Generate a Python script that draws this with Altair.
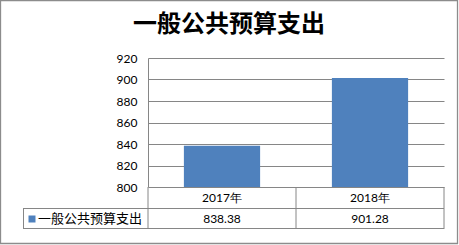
import altair as alt
import pandas as pd

# ---- data ----
categories = ["2017年", "2018年"]
values = [838.38, 901.28]
series_name = "一般公共预算支出"
chart_title = "一般公共预算支出"
y_ticks = [800, 820, 840, 860, 880, 900, 920]

df = pd.DataFrame({"year": categories, "value": values})
df["label"] = [f"{v:.2f}" for v in values]
df["base"] = y_ticks[0]

W, H = 296, 129
GRAY = "#868686"
BLUE = "#4F81BD"

x_enc = alt.X("year:N", sort=categories,
              scale=alt.Scale(paddingInner=0, paddingOuter=0),
              axis=None)

base = alt.Chart(df)

bars = base.mark_bar(color=BLUE, width=alt.RelativeBandSize(0.515), clip=True).encode(
    x=x_enc,
    y=alt.Y("value:Q",
            scale=alt.Scale(domain=[800, 920], zero=False, nice=False),
            axis=alt.Axis(values=y_ticks, grid=True, gridColor=GRAY,
                          domainColor=GRAY, ticks=False, labelPadding=11,
                          labelFontSize=12, labelFont="Lato",
                          labelColor="black", title=None)),
    y2="base:Q",
)

# table: category labels row
cat_text = base.mark_text(fontSize=12, font="Lato", color="black",
                          baseline="middle").encode(
    x=x_enc, y=alt.value(140), text="year:N")

# table: value row
val_text = base.mark_text(fontSize=12, font="Lato", color="black",
                          baseline="middle").encode(
    x=x_enc, y=alt.value(161), text="label:N")

# legend cell
legend_sq = alt.Chart(pd.DataFrame({"s": [series_name]})).mark_square(
    color=BLUE, size=49, opacity=1).encode(
    x=alt.value(-116), y=alt.value(161))
legend_txt = alt.Chart(pd.DataFrame({"s": [series_name]})).mark_text(
    fontSize=13, font="Noto Sans CJK SC", align="left", baseline="middle",
    color="black").encode(x=alt.value(-110), y=alt.value(161), text="s:N")

# grid/border lines
def hline(x1, x2, y, color=GRAY, sw=1):
    return alt.Chart(pd.DataFrame({"a": [0]})).mark_rule(color=color, strokeWidth=sw).encode(
        x=alt.value(x1), x2=alt.value(x2), y=alt.value(y))

def vline(x, y1, y2, color=GRAY, sw=1):
    return alt.Chart(pd.DataFrame({"a": [0]})).mark_rule(color=color, strokeWidth=sw).encode(
        x=alt.value(x), y=alt.value(y1), y2=alt.value(y2))

lines = [
    hline(-125, W, 150.5),
    hline(-125, W, 170.5),
    vline(-124.5, 150, 171),
    vline(0, 129, 171),
    vline(148, 129, 171),
    vline(W, 129, 171),
]

BORDER = "#8c8c8c"
border = [
    hline(-148, 310, -57.5, BORDER, 1.3),
    hline(-148, 310, 185.5, BORDER, 1.3),
    vline(-147.5, -58, 186, BORDER, 1.3),
    vline(309.5, -58, 186, BORDER, 1.3),
]

# title
title = alt.Chart(pd.DataFrame({"t": [chart_title]})).mark_text(
    fontSize=24, font="Noto Sans CJK SC", fontWeight="bold",
    baseline="middle", align="center", color="black").encode(
    x=alt.value(81), y=alt.value(-33), text="t:N")

chart = alt.layer(bars, *lines, *border, cat_text, val_text, legend_sq, legend_txt, title).properties(
    width=W, height=H,
    autosize=alt.AutoSizeParams(type="none"),
    padding={"left": 148, "top": 58, "right": 15, "bottom": 58},
    background="white",
).configure_view(stroke=None)

chart.save("out.html", embed_options={"renderer": "svg", "actions": False})
